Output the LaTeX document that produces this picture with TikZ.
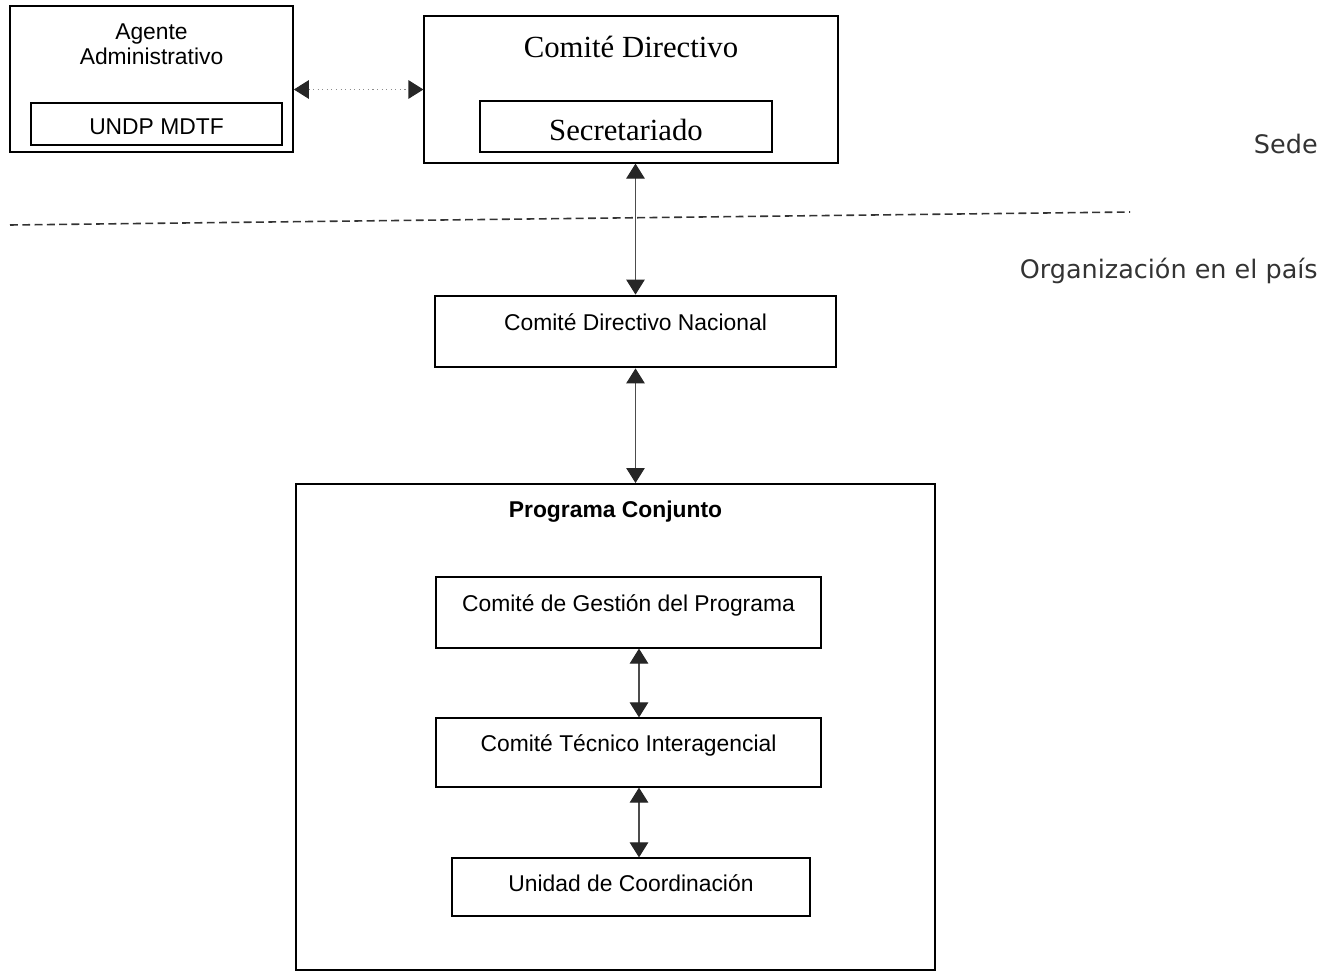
\documentclass[tikz,border=0pt]{standalone}
\usepackage{fontspec}
\setmainfont{Liberation Sans}
\newfontfamily\timesfont{Liberation Serif}
\newfontfamily\verdanafont{DejaVu Sans}
\usepackage{tikz}
\usetikzlibrary{arrows.meta}
\usetikzlibrary{positioning}

\begin{document}
\begin{tikzpicture}[x=0.02cm,y=-0.02cm,
   box/.style={draw,inner sep=0pt,line width=0.7pt,font=\fontsize{13}{14.7}\selectfont},
   link/.style={{Triangle[length=8.5pt,width=10.5pt,color=black!85]}-{Triangle[length=8.5pt,width=10.5pt,color=black!85]},line width=0.6pt,draw=black!70},
   zone/.style={font=\verdanafont\fontsize{14.5}{16}\selectfont,text=black!80,anchor=east,inner sep=0pt}]
   \useasboundingbox (0,0) rectangle (1337,973);
   % sede
   \node[box,line width=1pt,minimum width=5.66cm,minimum height=2.92cm,
      label={[anchor=north,yshift=-0.24cm,align=center,font=\fontsize{13}{14.7}\selectfont]north:Agente\\Administrativo}] (agente) at (151.5,79) {};
   \node[box,minimum width=5.02cm,text height=0.64cm,text depth=0.2cm] (undp) at (156.5,124) {UNDP MDTF};
   \node[box,minimum width=8.28cm,minimum height=2.94cm,
      label={[anchor=north,yshift=-0.3cm,font=\timesfont\fontsize{17.5}{20}\selectfont]north:Comité Directivo}] (cd) at (631,89.5) {};
   \node[box,minimum width=5.84cm,text height=0.8cm,text depth=0.22cm,font=\timesfont\fontsize{17.5}{20}\selectfont] (sec) at (626,126.5) {Secretariado};
   \draw[link,draw=black!45,dotted] (agente.east |- cd.west) -- (cd.west);
   \draw[dashed,dash pattern=on 4.5pt off 2.5pt,line width=0.9pt,black!80] (10,225) -- (1130,212);
   \node[zone] (sede) at (1318,144) {Sede};
   \node[zone] (pais) at (1318,271) {Organización en el país};
   % en el pais
   \node[box,line width=1.6pt,minimum width=8.02cm,text height=0.68cm,text depth=0.74cm] (cdn) at (635.5,331.5) {Comité Directivo Nacional};
   \draw[link] (cdn.north |- cd.south) -- (cdn.north);
   \node[box,line width=1.2pt,minimum width=12.78cm,minimum height=9.72cm,
      label={[anchor=north,yshift=-0.24cm,font=\bfseries\fontsize{13}{14.7}\selectfont]north:Programa Conjunto}] (pc) at (615.5,727) {};
   \draw[link] (cdn.south) -- (cdn.south |- pc.north);
   \node[box,minimum width=7.7cm,text height=0.68cm,text depth=0.74cm] (cgp) at (628.5,612.5) {Comité de Gestión del Programa};
   \node[box,minimum width=7.7cm,text height=0.66cm,text depth=0.72cm] (cti) at (628.5,752.5) {Comité Técnico Interagencial};
   \node[box,minimum width=7.16cm,text height=0.66cm,text depth=0.5cm] (uc) at (631,887) {Unidad de Coordinación};
   \draw[link] ([xshift=0.21cm]cgp.south) -- ([xshift=0.21cm]cti.north);
   \draw[link] ([xshift=0.21cm]cti.south) -- ([xshift=0.21cm]cti.south |- uc.north);
\end{tikzpicture}
\end{document}
